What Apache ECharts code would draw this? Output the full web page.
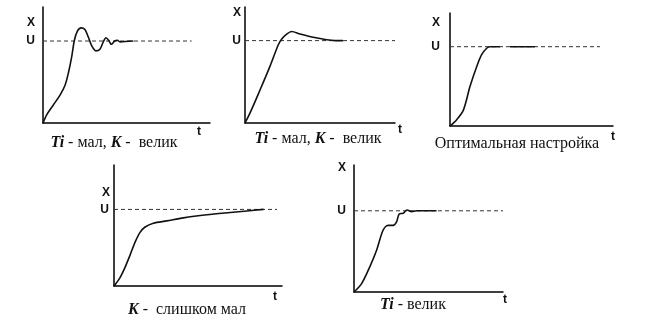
<!DOCTYPE html>
<html>
<head>
<meta charset="utf-8">
<script src="https://cdn.jsdelivr.net/npm/echarts@6/dist/echarts.min.js"></script>
<style>
  html, body { margin: 0; padding: 0; background: #fff; }
  #chart { width: 647px; height: 328px; }
</style>
</head>
<body>
<div id="chart"></div>
<script>
// Set point U (steady-state level of every transient)
const uLevel = 1;

// Ti small, K large: strongly oscillating response
const tOsc = [0, 0.22, 0.62, 1.02, 1.32, 1.52, 1.72, 1.88, 2.06, 2.28, 2.51, 2.71, 2.92, 3.17, 3.41, 3.61, 3.77, 3.93, 4.09, 4.29, 4.45, 4.61, 5.41];
const xOsc = [0, 0.10, 0.22, 0.34, 0.46, 0.61, 0.81, 1.01, 1.12, 1.16, 1.14, 1.05, 0.94, 0.88, 0.90, 0.99, 1.04, 1.01, 0.96, 1.00, 1.01, 0.99, 1.00];

// Ti small, K large: single overshoot
const tOver = [0, 0.33, 1.00, 1.67, 2.22, 2.45, 2.78, 3.11, 3.67, 4.55, 5.45, 6.00, 6.53];
const xOver = [0, 0.12, 0.40, 0.69, 0.95, 1.02, 1.08, 1.11, 1.08, 1.04, 1.01, 1.00, 1.00];

// Optimal tuning (null marks a gap in the trace)
const tOpt = [0, 0.41, 0.82, 1.23, 1.64, 1.94, 2.25, 2.45, 3.07, 3.40, 3.68, 5.21];
const xOpt = [0, 0.08, 0.20, 0.50, 0.75, 0.90, 0.98, 1.00, 1.00, null, 1.00, 1.00];

// K too small: slow creep towards U
const tSlow = [0, 0.36, 0.65, 0.95, 1.25, 1.55, 1.85, 2.34, 3.14, 4.13, 5.53, 6.92, 7.91, 8.90];
const xSlow = [0, 0.11, 0.24, 0.40, 0.57, 0.70, 0.77, 0.82, 0.85, 0.89, 0.93, 0.96, 0.98, 1.00];

// Ti large: stepped approach
const tStep = [0, 0.50, 1.06, 1.51, 1.95, 2.29, 2.62, 2.85, 3.03, 3.30, 3.56, 3.86, 4.20, 5.54];
const xStep = [0, 0.10, 0.31, 0.51, 0.76, 0.82, 0.82, 0.86, 0.96, 0.97, 1.01, 0.99, 1.00, 1.00];

// Where each dashed U line stops on the time axis
const refEnd = [8.9, 10, 9.2, 9.7, 10];

// Panel captions
const captions = [
  '{b|Ti} - мал, {b|K} -  велик',
  '{b|Ti} - мал, {b|K} -  велик',
  'Оптимальная настройка',
  '{b|K} -  слишком мал',
  '{b|Ti} - велик'
];

const curvesT = [tOsc, tOver, tOpt, tSlow, tStep];
const curvesX = [xOsc, xOver, xOpt, xSlow, xStep];

// Panel layout in pixels
const panels = [
  { left: 43,  top: 7,   width: 167, height: 116, yMax: 1.415, capX: 114, capY: 135, xGap: -16, xPad: 8,  uMargin: 8,  tGap: -11, tTop: 3 },
  { left: 245, top: 7,   width: 150, height: 116, yMax: 1.408, capX: 318, capY: 131, xGap: -6,  xPad: 4,  uMargin: 4,  tGap: 5,   tTop: 1 },
  { left: 450, top: 13,  width: 163, height: 113, yMax: 1.425, capX: 517, capY: 136, xGap: -10, xPad: 10, uMargin: 10, tGap: 0,   tTop: 5 },
  { left: 114, top: 165, width: 168, height: 121, yMax: 1.58,  capX: 187, capY: 302, xGap: -28, xPad: 4,  uMargin: 5,  tGap: -7,  tTop: 5 },
  { left: 354, top: 165, width: 149, height: 127, yMax: 1.564, capX: 413, capY: 297, xGap: -3,  xPad: 8,  uMargin: 8,  tGap: 2,   tTop: 2 }
];

const labelFont = { fontFamily: 'Liberation Sans, Arial, sans-serif', fontSize: 12, fontWeight: 'bold', color: '#111' };
const serif = 'Liberation Serif, Times New Roman, serif';

const grid = [], xAxis = [], yAxis = [], series = [], title = [];

panels.forEach((p, i) => {
  grid.push({ left: p.left, top: p.top, width: p.width, height: p.height, outerBoundsMode: 'none', containLabel: false });

  xAxis.push({
    type: 'value', gridIndex: i, min: 0, max: 10,
    axisLine: { show: true, lineStyle: { color: '#000', width: 1.5 } },
    axisTick: { show: false }, axisLabel: { show: false }, splitLine: { show: false },
    name: 't', nameLocation: 'end', nameGap: p.tGap, nameMoveOverlap: false,
    nameTextStyle: Object.assign({}, labelFont, { align: 'center', verticalAlign: 'top', padding: [p.tTop, 0, 0, 0] })
  });

  yAxis.push({
    type: 'value', gridIndex: i, min: 0, max: p.yMax, interval: uLevel,
    axisLine: { show: true, lineStyle: { color: '#000', width: 1.5 } },
    axisTick: { show: false }, splitLine: { show: false },
    axisLabel: Object.assign({}, labelFont, {
      margin: p.uMargin, showMaxLabel: false,
      formatter: v => (v === uLevel ? 'U' : '')
    }),
    name: 'X', nameLocation: 'end', nameGap: p.xGap, nameMoveOverlap: false,
    nameTextStyle: Object.assign({}, labelFont, { align: 'right', verticalAlign: 'middle', padding: [0, p.xPad, 0, 0] })
  });

  // dashed set-point line
  series.push({
    type: 'line', xAxisIndex: i, yAxisIndex: i, showSymbol: false, silent: true,
    data: [[0, uLevel], [refEnd[i], uLevel]],
    lineStyle: { color: '#333', width: 1, type: [4, 3] }
  });

  // transient response
  series.push({
    type: 'line', xAxisIndex: i, yAxisIndex: i, showSymbol: false, smooth: 0.3,
    data: curvesT[i].map((t, k) => [t, curvesX[i][k] === null ? '-' : curvesX[i][k]]),
    lineStyle: { color: '#111', width: 1.6 }
  });

  title.push({
    text: captions[i], left: p.capX, top: p.capY, textAlign: 'center', padding: 0,
    textStyle: {
      fontFamily: serif, fontSize: 16, fontWeight: 'normal', color: '#111',
      rich: { b: { fontFamily: serif, fontSize: 16, fontWeight: 'bold', fontStyle: 'italic', color: '#111' } }
    }
  });
});

const chart = echarts.init(document.getElementById('chart'), null, { renderer: 'canvas' });
chart.setOption({ animation: false, backgroundColor: '#fff', title, grid, xAxis, yAxis, series });
</script>
</body>
</html>
